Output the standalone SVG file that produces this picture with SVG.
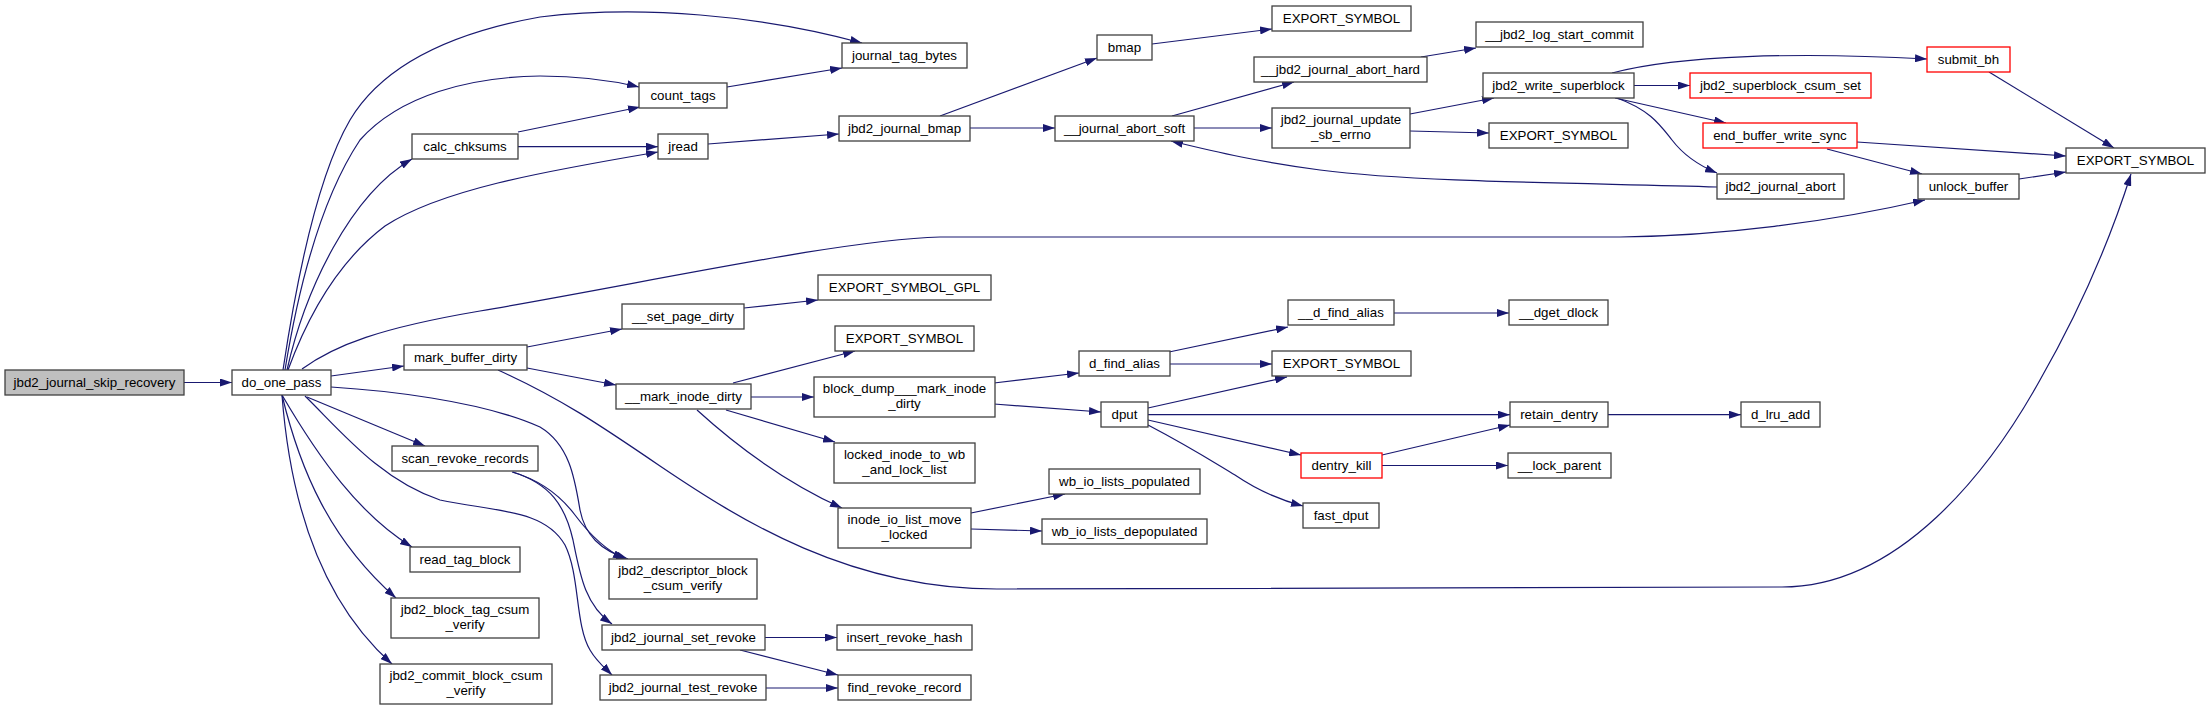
<svg xmlns="http://www.w3.org/2000/svg" width="2211" height="710" viewBox="0 0 2211 710">
<style>
.n rect{fill:#fff;stroke:#404040;stroke-width:1.3}
.n.r rect{stroke:#ff0000}
.n.g rect{fill:#bfbfbf}
.n text{font-family:"Liberation Sans",Arial,sans-serif;font-size:13.3px;fill:#000;text-anchor:middle}
.e path{fill:none;stroke:#191970;stroke-width:1.2;marker-end:url(#a)}
</style>
<defs>
<marker id="a" markerWidth="12" markerHeight="8" refX="12" refY="4" orient="auto" markerUnits="userSpaceOnUse">
<path d="M0,0 L12,4 L0,8 z" fill="#191970"/>
</marker>
</defs>
<rect width="2211" height="710" fill="#fff"/>
<g id="edges" class="e">
<path d="M184,382.5 L232,382.5"/>
<path d="M283,370 C295,290 315,180 350,120 C380,70 440,35 540,17 C640,5 760,15 862,43"/>
<path d="M285,370 C298,290 320,200 360,140 C400,95 470,77 540,76 C575,76 610,80 639,87"/>
<path d="M287,370 C305,290 350,195 412,159"/>
<path d="M288,370 C310,310 340,260 385,226 C440,190 540,172 658,152"/>
<path d="M518,132 L640,107"/>
<path d="M518,146.7 L658,146.7"/>
<path d="M727,87 L842,68"/>
<path d="M708,144 L839,134"/>
<path d="M940,116 L1097,58"/>
<path d="M970,128 L1055,128"/>
<path d="M1152,44 L1272,29"/>
<path d="M1172,116 L1294,82"/>
<path d="M1194,128 L1272,128"/>
<path d="M1421,57 L1476,48"/>
<path d="M1410,114 L1494,98"/>
<path d="M1410,131 L1489,133"/>
<path d="M1612,73 C1680,55 1800,52 1927,59"/>
<path d="M1634,85.5 L1690,85.5"/>
<path d="M1615,98 L1726,123"/>
<path d="M1617,98 C1650,110 1660,125 1672,140 C1685,157 1700,166 1717,173"/>
<path d="M1717,187 C1600,183 1420,183 1320,170 C1260,162 1220,153 1171,141"/>
<path d="M1989,72 L2114,148"/>
<path d="M1857,142 L2066,156"/>
<path d="M1827,149 L1922,174"/>
<path d="M2019,179 L2066,172"/>
<path d="M302,369 C335,345 380,328 480,311 C650,282 840,240 940,237 L1620,237 C1720,236 1830,222 1925,200"/>
<path d="M331,376 L404,366"/>
<path d="M527,347 L622,329"/>
<path d="M744,308 L818,300"/>
<path d="M527,368 L616,385"/>
<path d="M498,370 C560,398 600,425 660,466 C740,520 850,590 1000,589 L1782,587 C1900,587 1990,470 2040,380 C2080,310 2110,240 2131,174"/>
<path d="M733,383 L855,351"/>
<path d="M751,397 L814,397"/>
<path d="M726,410 L835,442"/>
<path d="M697,410 C730,440 780,480 842,508"/>
<path d="M994,383 L1079,373"/>
<path d="M994,404 L1101,412"/>
<path d="M1169,352 L1288,327"/>
<path d="M1170,364 L1272,364"/>
<path d="M1394,313 L1509,313"/>
<path d="M1148,408 L1287,377"/>
<path d="M1148,414.7 L1510,414.7"/>
<path d="M1148,420 L1301,455"/>
<path d="M1148,425 C1190,447 1210,460 1235,475 C1260,492 1280,500 1303,506"/>
<path d="M1382,455 L1510,425"/>
<path d="M1382,465.5 L1508,465.5"/>
<path d="M1608,414.7 L1741,414.7"/>
<path d="M971,513 L1065,494"/>
<path d="M971,529 L1042,531"/>
<path d="M307,397 L425,446"/>
<path d="M331,387 C380,390 480,400 540,427 C570,445 575,480 580,510 C585,535 600,550 628,559"/>
<path d="M512,472 C540,480 560,495 575,515 C590,535 605,550 625,559"/>
<path d="M513,472 C550,484 565,505 573,540 C580,575 585,605 612,624"/>
<path d="M305,396 C340,430 380,480 440,500 C500,512 545,510 565,545 C580,575 575,625 590,650 C597,662 605,668 612,675"/>
<path d="M282,395 C320,460 360,515 412,547"/>
<path d="M282,395 C300,470 330,540 396,598"/>
<path d="M282,395 C290,500 320,600 392,664"/>
<path d="M765,637.5 L837,637.5"/>
<path d="M740,650 L838,675"/>
<path d="M766,688 L838,688"/>
</g>
<g id="n_skip" class="n g"><rect x="5" y="370" width="179" height="25"/><text x="94.5" y="387">jbd2_journal_skip_recovery</text></g>
<g id="n_dop" class="n"><rect x="232" y="370" width="99" height="25"/><text x="281.5" y="387">do_one_pass</text></g>
<g id="n_jtb" class="n"><rect x="842" y="43" width="125" height="25"/><text x="904.5" y="60">journal_tag_bytes</text></g>
<g id="n_ct" class="n"><rect x="639" y="83" width="88" height="25"/><text x="683" y="100">count_tags</text></g>
<g id="n_cc" class="n"><rect x="412" y="134" width="106" height="25"/><text x="465" y="151">calc_chksums</text></g>
<g id="n_jr" class="n"><rect x="658" y="134" width="50" height="25"/><text x="683" y="151">jread</text></g>
<g id="n_jjb" class="n"><rect x="839" y="116" width="131" height="25"/><text x="904.5" y="133">jbd2_journal_bmap</text></g>
<g id="n_bmap" class="n"><rect x="1097" y="35" width="55" height="25"/><text x="1124.5" y="52">bmap</text></g>
<g id="n_es1" class="n"><rect x="1272" y="6" width="139" height="25"/><text x="1341.5" y="23">EXPORT_SYMBOL</text></g>
<g id="n_jas" class="n"><rect x="1055" y="116" width="139" height="25"/><text x="1124.5" y="133">__journal_abort_soft</text></g>
<g id="n_jah" class="n"><rect x="1254" y="57" width="173" height="25"/><text x="1340.5" y="74">__jbd2_journal_abort_hard</text></g>
<g id="n_lsc" class="n"><rect x="1476" y="22" width="167" height="25"/><text x="1559.5" y="39">__jbd2_log_start_commit</text></g>
<g id="n_use" class="n"><rect x="1272" y="108" width="138" height="40"/><text x="1341" y="123.5">jbd2_journal_update</text><text x="1341" y="138.5">_sb_errno</text></g>
<g id="n_ws" class="n"><rect x="1483" y="73" width="151" height="25"/><text x="1558.5" y="90">jbd2_write_superblock</text></g>
<g id="n_es2" class="n"><rect x="1489" y="123" width="139" height="25"/><text x="1558.5" y="140">EXPORT_SYMBOL</text></g>
<g id="n_sbh" class="n r"><rect x="1927" y="47" width="83" height="25"/><text x="1968.5" y="64">submit_bh</text></g>
<g id="n_scs" class="n r"><rect x="1690" y="73" width="181" height="25"/><text x="1780.5" y="90">jbd2_superblock_csum_set</text></g>
<g id="n_ebws" class="n r"><rect x="1703" y="123" width="154" height="25"/><text x="1780" y="140">end_buffer_write_sync</text></g>
<g id="n_ja" class="n"><rect x="1717" y="174" width="127" height="25"/><text x="1780.5" y="191">jbd2_journal_abort</text></g>
<g id="n_ub" class="n"><rect x="1918" y="174" width="101" height="25"/><text x="1968.5" y="191">unlock_buffer</text></g>
<g id="n_es3" class="n"><rect x="2066" y="148" width="139" height="25"/><text x="2135.5" y="165">EXPORT_SYMBOL</text></g>
<g id="n_mbd" class="n"><rect x="404" y="345" width="123" height="25"/><text x="465.5" y="362">mark_buffer_dirty</text></g>
<g id="n_spd" class="n"><rect x="622" y="304" width="122" height="25"/><text x="683" y="321">__set_page_dirty</text></g>
<g id="n_esg" class="n"><rect x="818" y="275" width="173" height="25"/><text x="904.5" y="292">EXPORT_SYMBOL_GPL</text></g>
<g id="n_es4" class="n"><rect x="835" y="326" width="139" height="25"/><text x="904.5" y="343">EXPORT_SYMBOL</text></g>
<g id="n_mid" class="n"><rect x="616" y="384" width="135" height="25"/><text x="683.5" y="401">__mark_inode_dirty</text></g>
<g id="n_bd" class="n"><rect x="814" y="377" width="181" height="40"/><text x="904.5" y="392.5">block_dump___mark_inode</text><text x="904.5" y="407.5">_dirty</text></g>
<g id="n_dfa" class="n"><rect x="1079" y="351" width="91" height="25"/><text x="1124.5" y="368">d_find_alias</text></g>
<g id="n_ddfa" class="n"><rect x="1288" y="300" width="106" height="25"/><text x="1341" y="317">__d_find_alias</text></g>
<g id="n_dgd" class="n"><rect x="1509" y="300" width="99" height="25"/><text x="1558.5" y="317">__dget_dlock</text></g>
<g id="n_es5" class="n"><rect x="1272" y="351" width="139" height="25"/><text x="1341.5" y="368">EXPORT_SYMBOL</text></g>
<g id="n_dput" class="n"><rect x="1101" y="402" width="47" height="25"/><text x="1124.5" y="419">dput</text></g>
<g id="n_rd" class="n"><rect x="1510" y="402" width="98" height="25"/><text x="1559" y="419">retain_dentry</text></g>
<g id="n_dlru" class="n"><rect x="1741" y="402" width="79" height="25"/><text x="1780.5" y="419">d_lru_add</text></g>
<g id="n_dk" class="n r"><rect x="1301" y="453" width="81" height="25"/><text x="1341.5" y="470">dentry_kill</text></g>
<g id="n_lp" class="n"><rect x="1508" y="453" width="103" height="25"/><text x="1559.5" y="470">__lock_parent</text></g>
<g id="n_fd" class="n"><rect x="1303" y="503" width="76" height="25"/><text x="1341" y="520">fast_dput</text></g>
<g id="n_litw" class="n"><rect x="834" y="443" width="141" height="40"/><text x="904.5" y="458.5">locked_inode_to_wb</text><text x="904.5" y="473.5">_and_lock_list</text></g>
<g id="n_iolm" class="n"><rect x="838" y="508" width="133" height="40"/><text x="904.5" y="523.5">inode_io_list_move</text><text x="904.5" y="538.5">_locked</text></g>
<g id="n_wbp" class="n"><rect x="1049" y="469" width="151" height="25"/><text x="1124.5" y="486">wb_io_lists_populated</text></g>
<g id="n_wbd" class="n"><rect x="1042" y="519" width="165" height="25"/><text x="1124.5" y="536">wb_io_lists_depopulated</text></g>
<g id="n_srr" class="n"><rect x="392" y="446" width="146" height="25"/><text x="465" y="463">scan_revoke_records</text></g>
<g id="n_dbcv" class="n"><rect x="609" y="559" width="148" height="40"/><text x="683" y="574.5">jbd2_descriptor_block</text><text x="683" y="589.5">_csum_verify</text></g>
<g id="n_rtb" class="n"><rect x="410" y="547" width="110" height="25"/><text x="465" y="564">read_tag_block</text></g>
<g id="n_btcv" class="n"><rect x="391" y="598" width="148" height="40"/><text x="465" y="613.5">jbd2_block_tag_csum</text><text x="465" y="628.5">_verify</text></g>
<g id="n_cbcv" class="n"><rect x="380" y="664" width="172" height="40"/><text x="466" y="679.5">jbd2_commit_block_csum</text><text x="466" y="694.5">_verify</text></g>
<g id="n_jsr" class="n"><rect x="602" y="625" width="163" height="25"/><text x="683.5" y="642">jbd2_journal_set_revoke</text></g>
<g id="n_jtr" class="n"><rect x="600" y="675" width="166" height="25"/><text x="683" y="692">jbd2_journal_test_revoke</text></g>
<g id="n_irh" class="n"><rect x="837" y="625" width="135" height="25"/><text x="904.5" y="642">insert_revoke_hash</text></g>
<g id="n_frr" class="n"><rect x="838" y="675" width="133" height="25"/><text x="904.5" y="692">find_revoke_record</text></g>
</svg>
